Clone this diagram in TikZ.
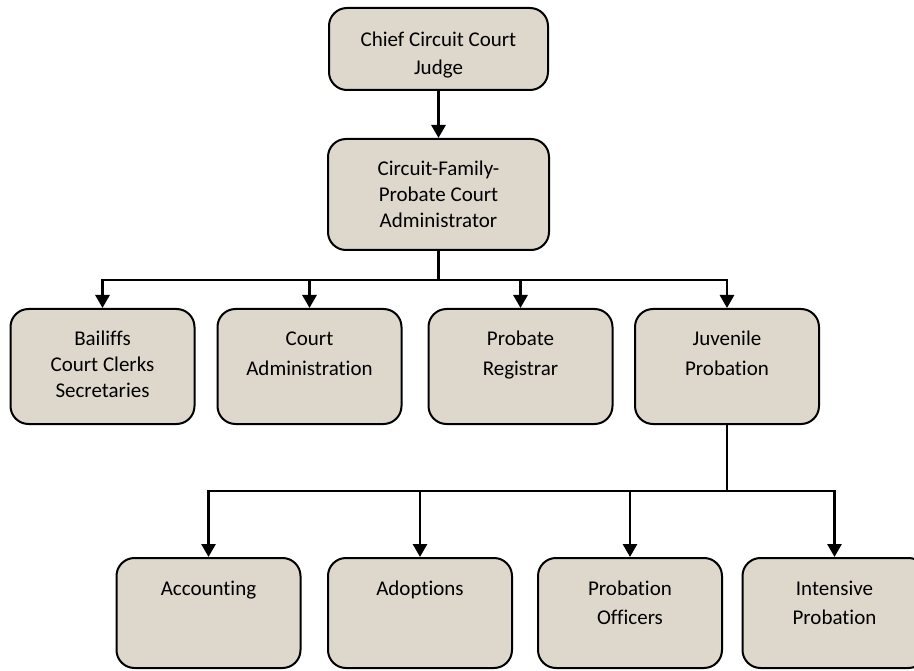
\documentclass[tikz,border=0pt]{standalone}
\usepackage{fontspec}
\setmainfont[Ligatures={NoCommon}]{Carlito}
\usetikzlibrary{arrows.meta}
\definecolor{boxfill}{RGB}{222,215,204}
\tikzset{
  box/.style={draw=black, line width=2pt, rounded corners=18pt, fill=boxfill,
    minimum width=184pt, inner sep=0pt},
  txt/.style={anchor=base, inner sep=0pt, font=\fontsize{21}{26}\selectfont, text=black},
  conn/.style={line width=2.8pt, draw=black},
  arr/.style={conn, -{Triangle[width=14pt,length=13pt]}}
}
\begin{document}
\begin{tikzpicture}[x=1pt,y=-1pt]
\useasboundingbox (0,0) rectangle (914,671);
\clip (0,0) rectangle (914,671);
\fill[white] (0,0) rectangle (914,671);

% boxes
\node[box, minimum width=219pt, minimum height=82pt] (chief) at (438.5,49) {};
\node[box, minimum width=221pt, minimum height=111pt] (admin) at (438.5,194.5) {};

\node[box, minimum height=115pt] (bail) at (102.5,366.5) {};
\node[box, minimum height=115pt] (cadm) at (309.5,366.5) {};
\node[box, minimum height=115pt] (preg) at (520.5,366.5) {};
\node[box, minimum height=115pt] (juv)  at (727,366.5) {};

\node[box, minimum height=110pt] (acc)  at (208.5,613) {};
\node[box, minimum height=110pt] (adop) at (420,613) {};
\node[box, minimum height=110pt] (poff) at (630,613) {};
\node[box, minimum height=110pt] (intp) at (834.5,613) {};

% texts
\node[txt] (chiefA) at (438.5,47) {Chief Circuit Court};
\node[txt] (chiefB) at (438.5,75) {Judge};

\node[txt] (adminA) at (438.5,176) {Circuit-Family-};
\node[txt] (adminB) at (438.5,202) {Probate Court};
\node[txt] (adminC) at (438.5,228) {Administrator};

\node[txt] (bailA) at (102.5,346) {Bailiffs};
\node[txt] (bailB) at (102.5,372) {Court Clerks};
\node[txt] (bailC) at (102.5,398) {Secretaries};

\node[txt] (cadmA) at (309.5,346) {Court};
\node[txt] (cadmB) at (309.5,376) {Administration};

\node[txt] (pregA) at (520.5,346) {Probate};
\node[txt] (pregB) at (520.5,376) {Registrar};

\node[txt] (juvA) at (727,346) {Juvenile};
\node[txt] (juvB) at (727,376) {Probation};

\node[txt] (accA) at (208.5,595) {Accounting};
\node[txt] (adopA) at (420,595) {Adoptions};
\node[txt] (poffA) at (630,595) {Probation};
\node[txt] (poffB) at (630,624) {Officers};
\node[txt] (intpA) at (834.5,595) {Intensive};
\node[txt] (intpB) at (834.5,624) {Probation};

% connectors
\draw[arr] (chief.south) -- (admin.north);

\coordinate (bus1) at (438.5,280);
\draw[conn] (admin.south) -- (bus1);
\draw[arr] (bus1) -| (bail.north);
\draw[arr] (bus1) -| (cadm.north);
\draw[arr] (bus1) -| (preg.north);
\draw[arr] (bus1) -| (juv.north);

\coordinate (bus2) at (727,491);
\draw[conn] (juv.south) -- (bus2);
\draw[arr] (bus2) -| (acc.north);
\draw[arr] (bus2) -| (adop.north);
\draw[arr] (bus2) -| (poff.north);
\draw[arr] (bus2) -| (intp.north);
\end{tikzpicture}
\end{document}
